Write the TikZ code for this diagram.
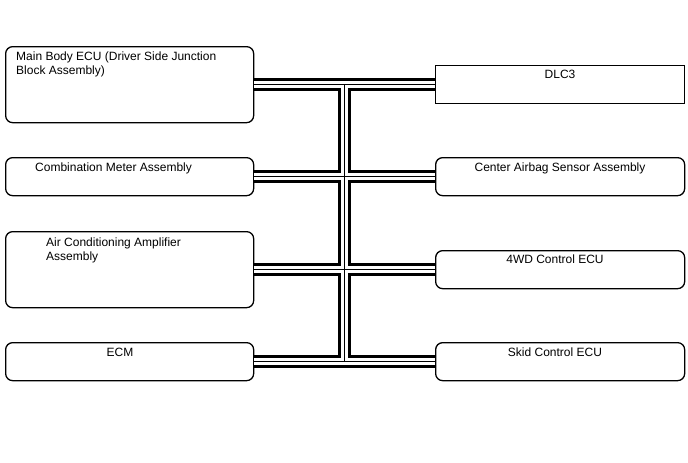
\documentclass[tikz,border=0pt]{standalone}
\usepackage{fontspec}
\setmainfont{Liberation Sans}
\usetikzlibrary{calc}
\begin{document}
\begin{tikzpicture}
% CAN bus wiring overview
\providecommand{\ecuLineColor}{black}
\providecommand{\ecuLineWidth}{1.3pt}
\providecommand{\ecuCornerRadius}{7pt}
\providecommand{\busOuterWidth}{12.5pt}
\providecommand{\busInnerWidth}{6.9pt}
\providecommand{\busCoreWidth}{0.9pt}
\tikzset{
  ecubox/.style={draw=\ecuLineColor, line width=\ecuLineWidth, rounded corners=\ecuCornerRadius,
    anchor=north west, inner sep=0pt, minimum height=38},
  leftbox/.style={ecubox, minimum width=248},
  rightbox/.style={ecubox, minimum width=249},
  ecutext/.style={inner sep=0pt, font=\fontsize{12}{14}\selectfont, align=left},
  busouter/.style={draw=black, line width=\busOuterWidth},
  businner/.style={draw=white, line width=\busInnerWidth},
  buscore/.style={draw=black, line width=\busCoreWidth},
}
\newcommand{\busnet}[1]{%
  \draw[#1] (body.east) -- (dlc.west);
  \draw[#1] (meter.east) -- (airbag.west);
  \draw[#1] (ac.east) -- (awd.west);
  \draw[#1] (ecm.east) -- (skid.west);
  \draw[#1] (trunktop) -- (trunkbot);
}
\begin{scope}[x=1pt, y=-1pt]
  \useasboundingbox (0,0) rectangle (688,463);
  % Left column
  \node[leftbox, minimum height=76] (body) at (5,46) {};
  \node[leftbox] (meter) at (5,157) {};
  \node[leftbox, minimum height=76] (ac) at (5,231) {};
  \node[leftbox] (ecm) at (5,342) {};
  % Right column
  \node[rightbox, rounded corners=0pt] (dlc) at (435,65) {};
  \node[rightbox] (airbag) at (435,157) {};
  \node[rightbox] (awd) at (435,250) {};
  \node[rightbox] (skid) at (435,342) {};
  % Labels
  \node[ecutext, anchor=north west] (bodytxt) at (16,52) {Main Body ECU (Driver Side Junction\\Block Assembly)};
  \node[ecutext, anchor=north west] (metertxt) at (35,163) {Combination Meter Assembly};
  \node[ecutext, anchor=north west] (actxt) at (46,238) {Air Conditioning Amplifier\\Assembly};
  \node[ecutext, anchor=north] (ecmtxt) at (120,348) {ECM};
  \node[ecutext, anchor=north] (dlctxt) at (560,70) {DLC3};
  \node[ecutext, anchor=north] (airbagtxt) at (560,163) {Center Airbag Sensor Assembly};
  \node[ecutext, anchor=north] (awdtxt) at (555,255) {4WD Control ECU};
  \node[ecutext, anchor=north] (skidtxt) at (555,348) {Skid Control ECU};
  % Bus trunk
  \coordinate (trunktop) at ($(body.east)!0.5!(dlc.west)$);
  \coordinate (trunkbot) at ($(ecm.east)!0.5!(skid.west)$);
  % Bus drawn in three passes: outer, gap, core
  \busnet{busouter}
  \busnet{businner}
  \busnet{buscore}
\end{scope}
\end{tikzpicture}
\end{document}
